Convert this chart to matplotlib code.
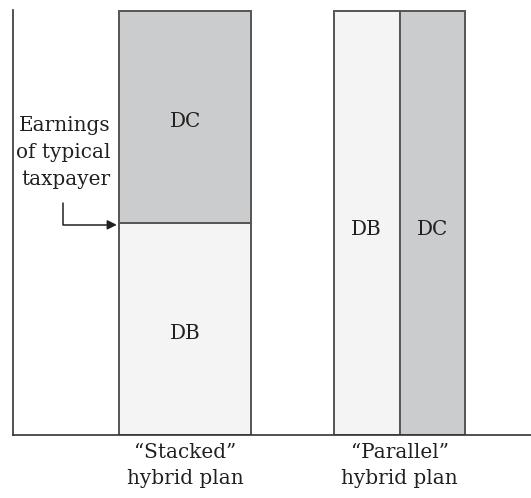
import matplotlib.pyplot as plt

# plan categories and shares of earnings covered
plans = ["\u201cStacked\u201d\nhybrid plan", "\u201cParallel\u201d\nhybrid plan"]
stacked_db = 50
stacked_dc = 50
parallel_db = 100
parallel_dc = 100
note = "Earnings\nof typical\ntaxpayer"

db_color = "#f3f4f3"
dc_color = "#cbcccd"
edge = "#555555"
txt = "#231f20"

plt.rcParams["font.family"] = ["DejaVu Serif"]

fig = plt.figure(figsize=(5.31, 4.98), dpi=100)
ax = fig.add_axes([13 / 531, 63 / 498, 518 / 531, 425 / 498])

w = 0.615
ax.bar(0, stacked_db, width=w, color=db_color, edgecolor=edge, linewidth=1.4)
ax.bar(0, stacked_dc, width=w, bottom=stacked_db, color=dc_color, edgecolor=edge, linewidth=1.4)
ax.bar(1 - w / 4, parallel_db, width=w / 2, color=db_color, edgecolor=edge, linewidth=1.4)
ax.bar(1 + w / 4, parallel_dc, width=w / 2, color=dc_color, edgecolor=edge, linewidth=1.4)

fs = 14.4
ax.text(0, stacked_db + stacked_dc * 0.48, "DC", ha="center", va="center", fontsize=fs, color=txt)
ax.text(0, stacked_db * 0.48, "DB", ha="center", va="center", fontsize=fs, color=txt)
ax.text(1 - w / 4, parallel_db * 0.485, "DB", ha="center", va="center", fontsize=fs, color=txt)
ax.text(1 + w / 4, parallel_dc * 0.485, "DC", ha="center", va="center", fontsize=fs, color=txt)

ax.text(-0.348, 66.7, note, ha="right", va="center", fontsize=fs, color=txt, linespacing=1.55)
ax.annotate("", xy=(-0.318, stacked_db - 0.4), xytext=(-0.569, 54.7),
            arrowprops=dict(arrowstyle="-|>", color=txt, lw=1.1, mutation_scale=14,
                            connectionstyle="angle,angleA=-90,angleB=180,rad=0",
                            shrinkA=0, shrinkB=0))

ax.set_xlim(-0.802, 1.613)
ax.set_ylim(0, 100.3)
ax.set_xticks([0, 1])
ax.set_xticklabels(plans, fontsize=fs, color=txt, linespacing=1.45)
ax.tick_params(axis="x", length=0, pad=6)
ax.set_yticks([])
for s in ["top", "right"]:
    ax.spines[s].set_visible(False)
for s in ["left", "bottom"]:
    ax.spines[s].set_color("#333333")
    ax.spines[s].set_linewidth(1.2)

fig.savefig("out.png", dpi=100)
